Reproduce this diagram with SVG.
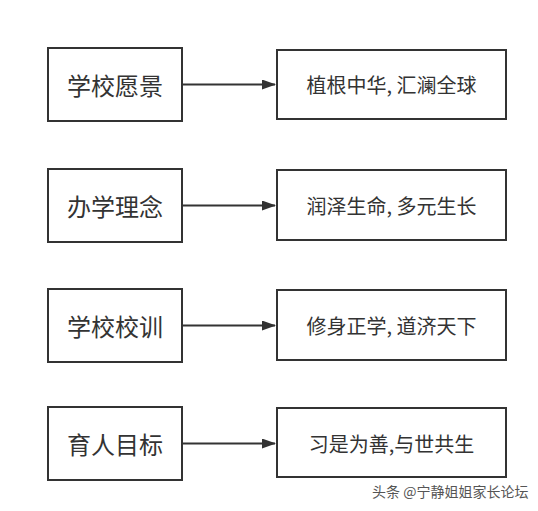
<svg xmlns="http://www.w3.org/2000/svg" width="538" height="511" viewBox="0 0 538 511">
<style>
.box{fill:#fff;stroke:#333;stroke-width:2}
.t1{font-family:"Noto Sans CJK SC","Liberation Sans",sans-serif;font-size:24px;fill:#333;text-anchor:middle;dominant-baseline:central}
.t2{font-family:"Noto Sans CJK SC","Liberation Sans",sans-serif;font-size:20px;fill:#333;text-anchor:middle;dominant-baseline:central}
.edge{stroke:#333;stroke-width:2;fill:none}
.wm{font-family:"Noto Sans CJK SC",sans-serif;font-size:14px;fill:#555}
</style>
<defs>
<marker id="arr" markerWidth="14" markerHeight="10" refX="13" refY="5" orient="auto" markerUnits="userSpaceOnUse">
<path d="M0,0 L14,5 L0,10 Z" fill="#333"/>
</marker>
</defs>
<rect width="538" height="511" fill="#fff"/>
<g id="connectors">
<line class="edge" x1="182" y1="84.5" x2="275" y2="84.5" marker-end="url(#arr)"/>
<line class="edge" x1="182" y1="205.5" x2="275" y2="205.5" marker-end="url(#arr)"/>
<line class="edge" x1="182" y1="325.5" x2="275" y2="325.5" marker-end="url(#arr)"/>
<line class="edge" x1="182" y1="443.5" x2="275" y2="443.5" marker-end="url(#arr)"/>
</g>
<g id="n1"><rect class="box" x="48" y="48" width="134" height="73"/><text class="t1" x="115" y="84.5">学校愿景</text></g>
<g id="n2"><rect class="box" x="277" y="50" width="229" height="69"/><text class="t2" x="391.5" y="84.5">植根中华, 汇澜全球</text></g>
<g id="n3"><rect class="box" x="48" y="169" width="134" height="73"/><text class="t1" x="115" y="205.5">办学理念</text></g>
<g id="n4"><rect class="box" x="277" y="170" width="229" height="70"/><text class="t2" x="391.5" y="205.5">润泽生命, 多元生长</text></g>
<g id="n5"><rect class="box" x="48" y="289" width="134" height="73"/><text class="t1" x="115" y="325.5">学校校训</text></g>
<g id="n6"><rect class="box" x="277" y="290" width="229" height="70"/><text class="t2" x="391.5" y="325.5">修身正学, 道济天下</text></g>
<g id="n7"><rect class="box" x="48" y="407" width="134" height="73"/><text class="t1" x="115" y="443.5">育人目标</text></g>
<g id="n8"><rect class="box" x="277" y="408" width="229" height="69"/><text class="t2" x="391.5" y="443.5">习是为善,与世共生</text></g>
<text class="wm" x="372" y="497">头条 @宁静姐姐家长论坛</text>
</svg>
